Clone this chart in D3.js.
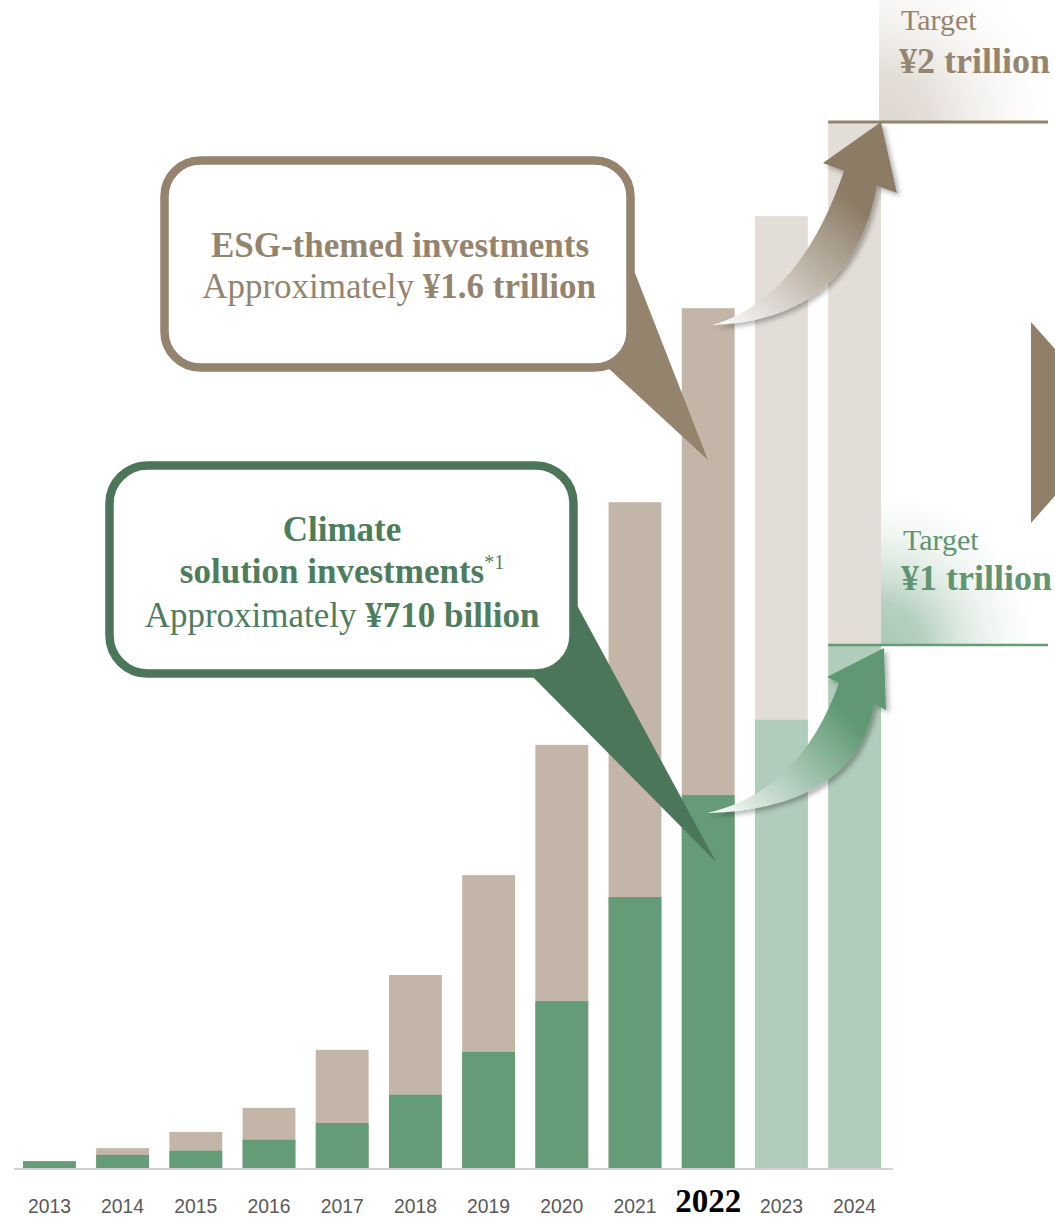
<!DOCTYPE html>
<html lang="en">
<head>
    <meta charset="UTF-8">
    <title>ESG-themed and climate solution investments</title>
    <script src="https://d3js.org/d3.v7.min.js"></script>
    <style>
        * { margin: 0; padding: 0; box-sizing: border-box; }
        html, body { width: 1055px; height: 1220px; background: #fff; overflow: hidden; }
        .serif { font-family: "Liberation Serif", "Times New Roman", serif; }
        .year { font-family: "Liberation Sans", Arial, sans-serif; font-size: 21px; fill: #595959; }
    </style>
</head>
<body>
    <svg id="chart" width="1055" height="1220"></svg>
    <script>
        // values in billion yen
        const years = ['2013', '2014', '2015', '2016', '2017', '2018', '2019', '2020', '2021', '2022', '2023', '2024'];
        const climate = [13, 25, 33, 54, 86, 140, 222, 319, 518, 713, 857, 1000];
        const esgTotal = [13, 38, 69, 115, 226, 369, 560, 809, 1273, 1644, 1820, 2000];
        const targetYears = ['2023', '2024'];
        const esgTarget = 2000;
        const climateTarget = 1000;

        const beige = '#c3b6a8', beigeLight = '#e2ddd6', beigeDark = '#94836d';
        const green = '#639c76', greenLight = '#b0ccbb', greenDark = '#4b7659';

        const svg = d3.select('#chart');
        const defs = svg.append('defs');

        const x = d3.scaleBand()
            .domain(years)
            .range([12.8, 891.2])
            .paddingInner(0.278)
            .paddingOuter(0.139);

        const y = d3.scaleLinear()
            .domain([0, 2000])
            .range([1168, 122]);

        // gradients
        function radial(id, color) {
            const g = defs.append('radialGradient').attr('id', id)
                .attr('gradientUnits', 'userSpaceOnUse');
            g.append('stop').attr('offset', 0).attr('stop-color', color);
            g.append('stop').attr('offset', 0.25).attr('stop-color', color).attr('stop-opacity', 0.85);
            g.append('stop').attr('offset', 1).attr('stop-color', '#fff').attr('stop-opacity', 0);
            return g;
        }
        radial('gEsgBg', '#ddd7cf').attr('cx', 879).attr('cy', y(esgTarget)).attr('r', 190);
        radial('gClimBg', '#a9c8b4').attr('cx', 880).attr('cy', y(climateTarget)).attr('r', 170);

        function linear(id, color, x1, y1, x2, y2) {
            const g = defs.append('linearGradient').attr('id', id)
                .attr('gradientUnits', 'userSpaceOnUse')
                .attr('x1', x1).attr('y1', y1).attr('x2', x2).attr('y2', y2);
            g.append('stop').attr('offset', 0).attr('stop-color', '#fff');
            g.append('stop').attr('offset', 0.7).attr('stop-color', color);
            g.append('stop').attr('offset', 1).attr('stop-color', color);
        }

        const shadow = defs.append('filter').attr('id', 'shadow')
            .attr('x', '-20%').attr('y', '-20%').attr('width', '150%').attr('height', '150%');
        shadow.append('feDropShadow').attr('dx', 3).attr('dy', 3)
            .attr('stdDeviation', 2.5).attr('flood-color', '#000').attr('flood-opacity', 0.3);

        // target background glow
        const xr = x('2024') + x.bandwidth();
        svg.append('rect').attr('x', xr - 2).attr('y', 0)
            .attr('width', 1055 - xr).attr('height', y(esgTarget))
            .attr('fill', 'url(#gEsgBg)');
        svg.append('rect').attr('x', xr - 1).attr('y', 503)
            .attr('width', 1055 - xr).attr('height', y(climateTarget) - 503)
            .attr('fill', 'url(#gClimBg)');

        // bars
        const isTarget = d => targetYears.includes(d);
        svg.append('g').selectAll('rect')
            .data(years)
            .join('rect')
            .attr('x', d => x(d))
            .attr('width', x.bandwidth())
            .attr('y', (d, i) => y(esgTotal[i]))
            .attr('height', (d, i) => y(0) - y(esgTotal[i]))
            .attr('fill', d => isTarget(d) ? beigeLight : beige);

        svg.append('g').selectAll('rect')
            .data(years)
            .join('rect')
            .attr('x', d => x(d))
            .attr('width', x.bandwidth())
            .attr('y', (d, i) => y(climate[i]))
            .attr('height', (d, i) => y(0) - y(climate[i]))
            .attr('fill', d => isTarget(d) ? greenLight : green);

        // baseline
        svg.append('line')
            .attr('x1', 14).attr('x2', 893)
            .attr('y1', y(0) + 1).attr('y2', y(0) + 1)
            .attr('stroke', '#d3d3d3').attr('stroke-width', 2);

        // target lines
        svg.append('line')
            .attr('x1', x('2024')).attr('x2', 1048)
            .attr('y1', y(esgTarget)).attr('y2', y(esgTarget))
            .attr('stroke', beigeDark).attr('stroke-width', 3);
        svg.append('line')
            .attr('x1', x('2024')).attr('x2', 1048)
            .attr('y1', y(climateTarget)).attr('y2', y(climateTarget))
            .attr('stroke', green).attr('stroke-width', 2.5);

        // target texts
        const tgt = svg.append('g').attr('class', 'serif');
        tgt.append('text').attr('x', 901).attr('y', 30)
            .attr('font-size', 30).attr('fill', '#958570').text('Target');
        tgt.append('text').attr('x', 899).attr('y', 73)
            .attr('font-size', 36).attr('font-weight', 'bold').attr('fill', '#958570').text('¥2 trillion');
        tgt.append('text').attr('x', 903).attr('y', 550)
            .attr('font-size', 30).attr('fill', '#5f9571').text('Target');
        tgt.append('text').attr('x', 901).attr('y', 590)
            .attr('font-size', 36).attr('font-weight', 'bold').attr('fill', '#5f9571').text('¥1 trillion');

        // partial chevron at right edge
        svg.append('path')
            .attr('d', 'M1031,322 L1031,523 L1120,422 Z')
            .attr('fill', '#8f7f68');

        // curved arrows
        linear('gEsgArrow', '#8c7c66', 712, 325, 881, 122);
        linear('gClimArrow', '#5f9873', 707, 813, 884, 648);

        svg.append('path')
            .attr('d', 'M712,325 Q800,300 844,171 L823,163 L881,122 L897,193 L877,186 Q852,320 712,325 Z')
            .attr('fill', 'url(#gEsgArrow)')
            .attr('filter', 'url(#shadow)');

        svg.append('path')
            .attr('d', 'M707,813 Q800,792 839,683 L827,677 L884,648 L886,710 L874,704 Q856,808 707,813 Z')
            .attr('fill', 'url(#gClimArrow)')
            .attr('filter', 'url(#shadow)');

        // callouts
        function callout(tail, color, rx, ry, rw, rh, r) {
            const g = svg.append('g');
            g.append('path').attr('d', tail).attr('fill', color);
            g.append('rect').attr('x', rx).attr('y', ry).attr('width', rw).attr('height', rh)
                .attr('rx', r).attr('ry', r)
                .attr('fill', '#fff').attr('stroke', color).attr('stroke-width', 8.5);
            return g;
        }

        const esgBox = callout('M626,250 L708,460 L606,366 Z', beigeDark, 164.5, 160.5, 466, 207, 36);
        const esgText = esgBox.append('text').attr('class', 'serif')
            .attr('text-anchor', 'middle').attr('font-size', 35).attr('fill', '#94846e');
        esgText.append('tspan').attr('x', 400).attr('y', 257)
            .attr('font-weight', 'bold').text('ESG-themed investments');
        esgText.append('tspan').attr('x', 399).attr('y', 298).text('Approximately ');
        esgText.append('tspan').attr('font-weight', 'bold').text('¥1.6 trillion');

        const climBox = callout('M572,596 L716,862 L528,672 Z', greenDark, 109.5, 465.5, 464, 208, 38);
        const climText = climBox.append('text').attr('class', 'serif')
            .attr('text-anchor', 'middle').attr('font-size', 35).attr('fill', '#4e7d5d');
        climText.append('tspan').attr('x', 342).attr('y', 541)
            .attr('font-weight', 'bold').text('Climate');
        climText.append('tspan').attr('x', 342).attr('y', 583)
            .attr('font-weight', 'bold').text('solution investments');
        climText.append('tspan').attr('font-size', 20).attr('dy', -14).text('*1');
        climText.append('tspan').attr('x', 342).attr('y', 627).text('Approximately ');
        climText.append('tspan').attr('font-weight', 'bold').text('¥710 billion');

        // year labels
        const labels = svg.append('g').selectAll('text')
            .data(years)
            .join('text')
            .attr('x', d => x(d) + x.bandwidth() / 2)
            .attr('y', 1213)
            .attr('text-anchor', 'middle');

        labels.filter(d => d !== '2022')
            .attr('class', 'year')
            .attr('textLength', 43)
            .attr('lengthAdjust', 'spacingAndGlyphs')
            .text(d => d);

        labels.filter(d => d === '2022')
            .attr('class', 'serif')
            .attr('y', 1212)
            .attr('font-size', 33)
            .attr('font-weight', 'bold')
            .attr('fill', '#000')
            .text(d => d);
    </script>
</body>
</html>
